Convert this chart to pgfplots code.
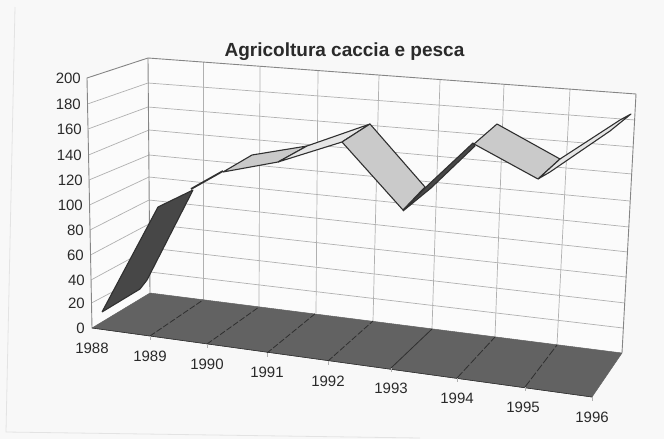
\documentclass[border=0pt]{standalone}
\usepackage{fontspec}
\setmainfont{Liberation Sans}
\usepackage{pgfplots}
\pgfplotsset{compat=1.18}
\definecolor{bg}{HTML}{F8F8F8}
\definecolor{wall}{HTML}{FBFBFB}
\definecolor{gridc}{HTML}{B0B0B0}
\definecolor{axisc}{HTML}{858585}
\definecolor{floorc}{HTML}{626262}
\definecolor{darkrib}{HTML}{474747}
\definecolor{lightrib}{HTML}{CACACA}
\definecolor{sliver}{HTML}{E6E6E6}
\definecolor{edge}{HTML}{303030}
\definecolor{txt}{HTML}{2A2A2A}
\begin{document}
\begin{tikzpicture}[x=1pt,y=1pt,
  gl/.style={draw=gridc,line width=0.7pt},
  ax/.style={draw=axisc,line width=0.9pt},
  lab/.style={text=txt,font=\fontsize{15}{15}\selectfont,inner sep=0pt}]
\begin{axis}[
  at={(0,0)},anchor=south west,
  scale only axis,width=664pt,height=439pt,
  xmin=0,xmax=664,ymin=0,ymax=439,y dir=reverse,
  hide axis,clip=false,no markers,
  every axis plot/.append style={sharp plot,line join=round},
]
% page
\addplot[draw=none,fill=bg] coordinates {(0,0)(664,0)(664,439)(0,439)(0,0)};
\addplot[draw=gray!22,line width=0.8pt] coordinates {(15,7)(6,432)(420,438)};
% walls
\addplot[draw=none,fill=wall] coordinates {(92,328)(87,78)(148,58)(636,94)(622,353)(150,293)(92,328)};
% left wall grid
\addplot[gl] coordinates {(91.5,303)(150,272)};
\addplot[gl] coordinates {(91,280)(150,248)};
\addplot[gl] coordinates {(90.5,255)(149,224)};
\addplot[gl] coordinates {(90,230)(149,200)};
\addplot[gl] coordinates {(89.5,205)(149,177)};
\addplot[gl] coordinates {(89,180)(149,155)};
\addplot[gl] coordinates {(88.5,155)(149,130)};
\addplot[gl] coordinates {(88,129)(148,107)};
\addplot[gl] coordinates {(87.5,104)(148,83)};
% back wall grid
\addplot[gl] coordinates {(150,272)(623,328)};
\addplot[gl] coordinates {(150,248)(625,303)};
\addplot[gl] coordinates {(149,224)(626,277)};
\addplot[gl] coordinates {(149,200)(628,252)};
\addplot[gl] coordinates {(149,177)(629,227)};
\addplot[gl] coordinates {(149,155)(630,201)};
\addplot[gl] coordinates {(149,130)(632,174)};
\addplot[gl] coordinates {(148,107)(633,147)};
\addplot[gl] coordinates {(148,83)(635,120)};
\addplot[gl] coordinates {(203,62)(203,300)};
\addplot[gl] coordinates {(260,67)(259,307)};
\addplot[gl] coordinates {(318,71)(316,313)};
\addplot[gl] coordinates {(379,75)(373,321)};
\addplot[gl] coordinates {(440,80)(432,329)};
\addplot[gl] coordinates {(504,84)(495,337)};
\addplot[gl] coordinates {(570,89)(557,345)};
% frame of walls
\addplot[ax] coordinates {(92,328)(87,78)(148,58)(636,94)(622,353)};
\addplot[ax] coordinates {(148,58)(150,293)};
% floor
\addplot[draw=floorc,fill=floorc,line width=0.5pt] coordinates {(92,328)(150,293)(622,353)(592,397)(92,328)};
\addplot[draw=edge,line width=0.6pt] coordinates {(92,328)(592,397)};
\addplot[draw=edge,line width=0.8pt,dash pattern=on 6pt off 2pt] coordinates {(150,336)(203,300)};
\addplot[draw=edge,line width=0.8pt,dash pattern=on 6pt off 2pt] coordinates {(207,344)(259,307)};
\addplot[draw=edge,line width=0.8pt,dash pattern=on 6pt off 2pt] coordinates {(267,353)(316,313)};
\addplot[draw=edge,line width=0.8pt,dash pattern=on 6pt off 2pt] coordinates {(328,361)(373,321)};
\addplot[draw=edge,line width=0.8pt] coordinates {(391,368)(432,329)};
\addplot[draw=edge,line width=0.8pt,dash pattern=on 8pt off 2pt] coordinates {(457,378)(495,337)};
\addplot[draw=edge,line width=0.8pt,dash pattern=on 8pt off 2pt] coordinates {(525,387)(557,345)};
% front ticks
\addplot[gl] coordinates {(150,336)(150,340)};
\addplot[gl] coordinates {(207,344)(207,348)};
\addplot[gl] coordinates {(267,353)(267,357)};
\addplot[gl] coordinates {(328,361)(328,365)};
\addplot[gl] coordinates {(391,368)(391,372)};
\addplot[gl] coordinates {(457,378)(457,382)};
\addplot[gl] coordinates {(525,387)(525,391)};
\addplot[gl] coordinates {(592,397)(592,401)};
% ribbon
\addplot[draw=edge,fill=darkrib,line width=1.1pt] coordinates {(102,312)(140,289)(147,280)(193,190)(158,207)(102,312)};
\addplot[draw=edge,line width=1.8pt] coordinates {(191,189)(223,171)};
\addplot[draw=edge,fill=lightrib,line width=1.1pt] coordinates {(223,172)(252,155)(307,146)(278,162)(223,172)};
\addplot[draw=edge,fill=sliver,line width=1.1pt] coordinates {(278,162)(342,142)(370,124)(307,146)(278,162)};
\addplot[draw=edge,fill=lightrib,line width=1.1pt] coordinates {(342,142)(370,124)(425,187)(403,210)(342,142)};
\addplot[draw=edge,fill=darkrib,line width=1.1pt] coordinates {(403,211)(431,188)(475,146)(473,143)(426,187)(403,211)};
\addplot[draw=edge,fill=lightrib,line width=1.1pt] coordinates {(474,144)(497,124)(560,159)(538,179)(474,144)};
\addplot[draw=edge,fill=sliver,line width=1.1pt] coordinates {(538,179)(550,172)(610,131)(631,114)(620,120)(560,159)(538,179)};
% labels
\node[anchor=center,inner sep=0pt,text=txt,font=\fontsize{19}{19}\selectfont\bfseries] at (axis cs:344.5,52) {Agricoltura caccia e pesca};
\node[lab,anchor=east] at (axis cs:81,78) {200};
\node[lab,anchor=east] at (axis cs:81,104) {180};
\node[lab,anchor=east] at (axis cs:82,129) {160};
\node[lab,anchor=east] at (axis cs:82,155) {140};
\node[lab,anchor=east] at (axis cs:83,180) {120};
\node[lab,anchor=east] at (axis cs:83,205) {100};
\node[lab,anchor=east] at (axis cs:84,230) {80};
\node[lab,anchor=east] at (axis cs:84,255) {60};
\node[lab,anchor=east] at (axis cs:85,280) {40};
\node[lab,anchor=east] at (axis cs:85,303) {20};
\node[lab,anchor=east] at (axis cs:85,328) {0};
\node[lab] at (axis cs:92,348) {1988};
\node[lab] at (axis cs:150,356) {1989};
\node[lab] at (axis cs:207,364) {1990};
\node[lab] at (axis cs:267,372) {1991};
\node[lab] at (axis cs:328,381) {1992};
\node[lab] at (axis cs:391,388) {1993};
\node[lab] at (axis cs:457,398) {1994};
\node[lab] at (axis cs:523,407) {1995};
\node[lab] at (axis cs:592,417) {1996};
\end{axis}
\end{tikzpicture}
\end{document}
